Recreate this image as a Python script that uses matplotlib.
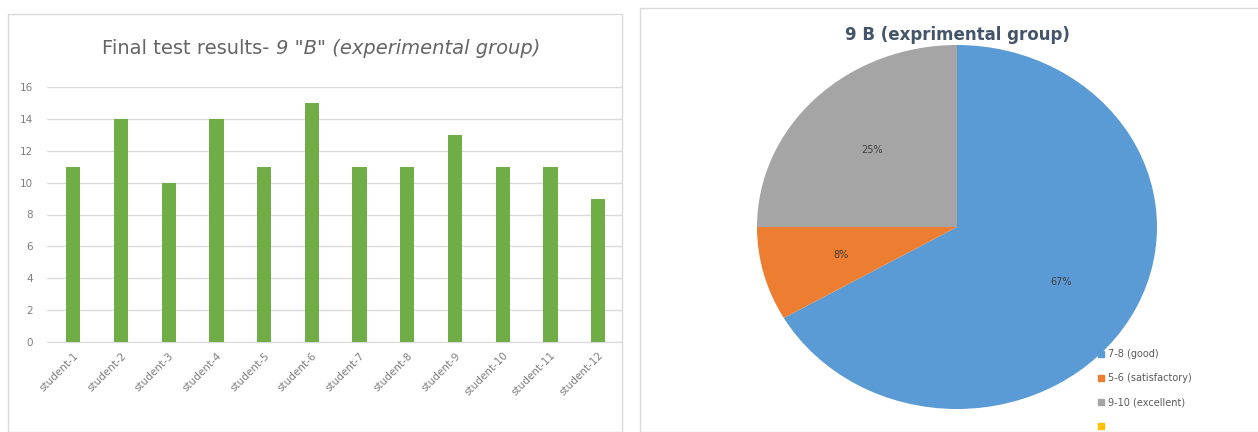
import matplotlib
matplotlib.use("Agg")
import matplotlib.pyplot as plt
from matplotlib.patches import Rectangle
from matplotlib.lines import Line2D
import math

students = ["student-1", "student-2", "student-3", "student-4", "student-5", "student-6",
            "student-7", "student-8", "student-9", "student-10", "student-11", "student-12"]
scores = [11, 14, 10, 14, 11, 15, 11, 11, 13, 11, 11, 9]
y_ticks = [0, 2, 4, 6, 8, 10, 12, 14, 16]

pie_labels = ["7-8 (good)", "5-6 (satisfactory)", "9-10 (excellent)", ""]
pie_values = [8, 1, 3, 0]
pie_colors = ["#5B9BD5", "#ED7D31", "#A5A5A5", "#FFC000"]

W, H = 1258, 432
fig = plt.figure(figsize=(W / 100, H / 100), dpi=100)
fig.patch.set_facecolor("white")

# panel borders
fig.add_artist(Rectangle((8 / W, 0), 614 / W, (H - 14) / H, transform=fig.transFigure,
                         fill=False, edgecolor="#d9d9d9", lw=1))
fig.add_artist(Rectangle((640 / W, 0), 620 / W, (H - 8) / H, transform=fig.transFigure,
                         fill=False, edgecolor="#d9d9d9", lw=1))

# ---- bar chart ----
ax = fig.add_axes([47 / W, (H - 342) / H, 575 / W, 255 / H])
x = list(range(len(students)))
ax.bar(x, scores, width=0.3, color="#70AD47", zorder=3)
ax.set_xlim(-0.55, 11.5)
ax.set_ylim(0, 16)
ax.set_yticks(y_ticks)
ax.set_yticklabels([str(t) for t in y_ticks], fontsize=7.5, color="#7f7f7f")
ax.set_xticks(x)
ax.set_xticklabels(students, rotation=45, ha="right", rotation_mode="anchor",
                   fontsize=7.5, color="#7f7f7f")
ax.grid(axis="y", color="#d9d9d9", lw=1, zorder=0)
for s in ["top", "right", "left"]:
    ax.spines[s].set_visible(False)
ax.spines["bottom"].set_color("#d9d9d9")
ax.tick_params(length=0, pad=6)
ax.tick_params(axis="y", pad=10)

# title in two styles, centred as a whole
t1 = fig.text(0, 1 - 48 / H, 'Final test results- ', fontsize=14, color="#656565",
              ha="left", va="center")
t2 = fig.text(0, 1 - 48 / H, '9 "B" (experimental group)', fontsize=14, color="#656565",
              ha="left", va="center", style="italic")
fig.canvas.draw()
r = fig.canvas.get_renderer()
w1 = t1.get_window_extent(r).width
w2 = t2.get_window_extent(r).width
left = 321 - (w1 + w2) / 2
t1.set_x(left / W)
t2.set_x((left + w1) / W)

# ---- pie chart ----
pax = fig.add_axes([757 / W, (H - 409) / H, 400 / W, 364 / H])
wedges, _ = pax.pie(pie_values[:3], colors=pie_colors[:3], startangle=90, counterclock=False,
                    radius=1.0)
pax.set_aspect("auto")
pax.set_xlim(-1, 1)
pax.set_ylim(-1, 1)
pax.axis("off")
total = sum(pie_values)
ang = 90.0
for v in pie_values[:3]:
    frac = v / total
    mid = ang - frac * 360 / 2
    ang -= frac * 360
    rr = 0.6
    pax.text(rr * math.cos(math.radians(mid)), rr * math.sin(math.radians(mid)),
             f"{round(frac * 100)}%", ha="center", va="center", fontsize=7, color="#404040")

fig.text(957 / W, 1 - 35 / H, "9 B (exprimental group)", fontsize=12, fontweight="bold",
         color="#44546A", ha="center", va="center")

handles = [Line2D([], [], marker="s", ls="", color=c, markersize=4) for c in pie_colors]
fig.legend(handles, pie_labels, loc="upper left", bbox_to_anchor=(1096 / W, 1 - 349 / H),
           frameon=False, fontsize=7, labelcolor="#595959", handletextpad=0.2,
           labelspacing=1.45, handlelength=1.0, borderaxespad=0, borderpad=0)

fig.savefig("out.png", dpi=100, facecolor="white")
